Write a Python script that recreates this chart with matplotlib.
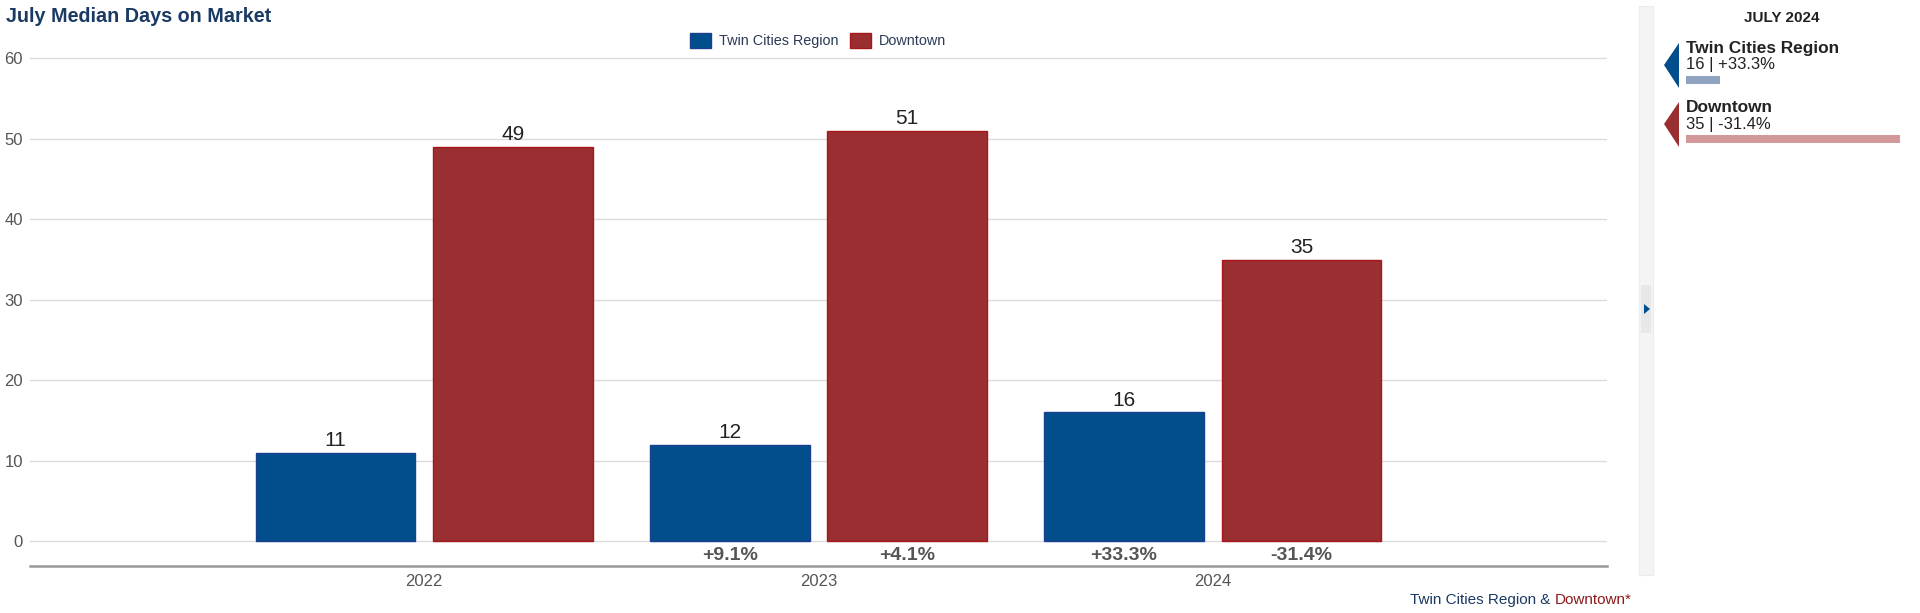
import numpy as np
import matplotlib.pyplot as plt
from matplotlib.patches import Polygon, Rectangle

plt.rcParams['font.family'] = ['Liberation Sans', 'DejaVu Sans']

# data
years = ['2022', '2023', '2024']
twin = [11, 12, 16]
downtown = [49, 51, 35]
series_names = ['Twin Cities Region', 'Downtown']
panel_title = 'JULY 2024'
panel_bar_frac = [0.16, 1.0]

BLUE = '#024e8c'
RED = '#9a2f31'
NAVY = '#1a3a64'

def pct(vals):
    out = ['']
    for a, b in zip(vals[:-1], vals[1:]):
        out.append('%+.1f%%' % ((b - a) / a * 100))
    return out

twin_pct = pct(twin)
down_pct = pct(downtown)

fig = plt.figure(figsize=(19.2, 6.13), dpi=100)
W, H = 1920, 613
ax = fig.add_axes([30 / W, 1 - 566 / H, (1607 - 30) / W, (566 - 56) / H])

x = np.arange(len(years))
bw = 0.405
off = 0.225
b1 = ax.bar(x - off, twin, bw, color=BLUE, edgecolor='#1b3f8f', linewidth=1, zorder=3)
b2 = ax.bar(x + off, downtown, bw, color=RED, edgecolor='#a8161c', linewidth=1, zorder=3)

for bars, vals in ((b1, twin), (b2, downtown)):
    for r, v in zip(bars, vals):
        ax.annotate(str(v), (r.get_x() + r.get_width() / 2, v), xytext=(0, 2),
                    textcoords='offset points', ha='center', va='bottom',
                    fontsize=15, color='#222222')

for xs, labs in ((x - off, twin_pct), (x + off, down_pct)):
    for xi, lab in zip(xs, labs):
        if lab:
            ax.text(xi, -1.8, lab, ha='center', va='center', fontsize=14,
                    fontweight='bold', color='#555555')

ax.set_xlim(-1, 3)
ax.set_ylim(-3.1, 60.3)
ax.set_yticks(range(0, 61, 10))
ax.set_xticks(x)
ax.set_xticklabels(years)
ax.grid(axis='y', color='#dcdcdc', linewidth=1, zorder=0)
for s in ['top', 'right', 'left']:
    ax.spines[s].set_visible(False)
ax.spines['bottom'].set_color('#999999')
ax.spines['bottom'].set_linewidth(1.8)
ax.tick_params(axis='both', length=0, labelsize=12, colors='#555555')
ax.tick_params(axis='x', pad=6)
ax.tick_params(axis='y', pad=5)

# title
fig.text(6 / W, 1 - 16 / H, 'July Median Days on Market', fontsize=14.2,
         fontweight='bold', color=NAVY, va='center', ha='left')

# legend on top
leg = ax.legend([b1, b2], series_names, loc='lower center', bbox_to_anchor=(0.5, 1.004),
                ncol=2, frameon=False, fontsize=10.4, handlelength=1.4, handleheight=1.2,
                columnspacing=0.8, handletextpad=0.6, borderaxespad=0)
for t in leg.get_texts():
    t.set_color('#2b3a55')

# footer, built right to left
r = fig.canvas.get_renderer()
fy = 1 - 600 / H
t3 = fig.text(1632 / W, fy, 'Downtown*', fontsize=11, color='#8b1a1a',
              ha='right', va='center')
x3 = t3.get_window_extent(r).x0 / W
t2 = fig.text(x3, fy, ' & ', fontsize=11, color=NAVY, ha='right', va='center')
x2 = t2.get_window_extent(r).x0 / W
fig.text(x2, fy, 'Twin Cities Region', fontsize=11, color=NAVY, ha='right', va='center')

# side panel
fig.patches.append(Rectangle((1639 / W, 1 - 575 / H), 14 / W, 569 / H,
                             transform=fig.transFigure, facecolor='#f4f4f4',
                             edgecolor='#ececec', linewidth=0.8))
fig.patches.append(Rectangle((1641 / W, 1 - 333 / H), 10 / W, 48 / H,
                             transform=fig.transFigure, facecolor='#e8e8e8',
                             edgecolor='none'))
fig.patches.append(Polygon([(1644 / W, 1 - 304 / H), (1644 / W, 1 - 314 / H),
                            (1650 / W, 1 - 309 / H)], closed=True,
                           transform=fig.transFigure, facecolor=BLUE, edgecolor='none'))

fig.text(1782 / W, 1 - 18 / H, panel_title, fontsize=11, fontweight='bold',
         color='#222222', ha='center', va='center')

panel_vals = [twin[-1], downtown[-1]]
panel_pcts = [twin_pct[-1], down_pct[-1]]
cols = [BLUE, RED]
bar_cols = ['#8fa2c0', '#d39899']
tops = [43, 102]
for i in range(2):
    t0 = tops[i]
    fig.patches.append(Polygon([(1664 / W, 1 - (t0 + 22) / H), (1679 / W, 1 - t0 / H),
                                (1679 / W, 1 - (t0 + 45) / H)], closed=True,
                               transform=fig.transFigure, facecolor=cols[i], edgecolor='none'))
    fig.text(1686 / W, 1 - (t0 + 5) / H, series_names[i], fontsize=12.4, fontweight='bold',
             color='#222222', ha='left', va='center')
    fig.text(1686 / W, 1 - (t0 + 22) / H, '%d | %s' % (panel_vals[i], panel_pcts[i]),
             fontsize=12, color='#222222', ha='left', va='center')
    fig.patches.append(Rectangle((1686 / W, 1 - (t0 + 41) / H), 214 * panel_bar_frac[i] / W,
                                 8 / H, transform=fig.transFigure,
                                 facecolor=bar_cols[i], edgecolor='none'))

fig.savefig('out.png', dpi=100)
